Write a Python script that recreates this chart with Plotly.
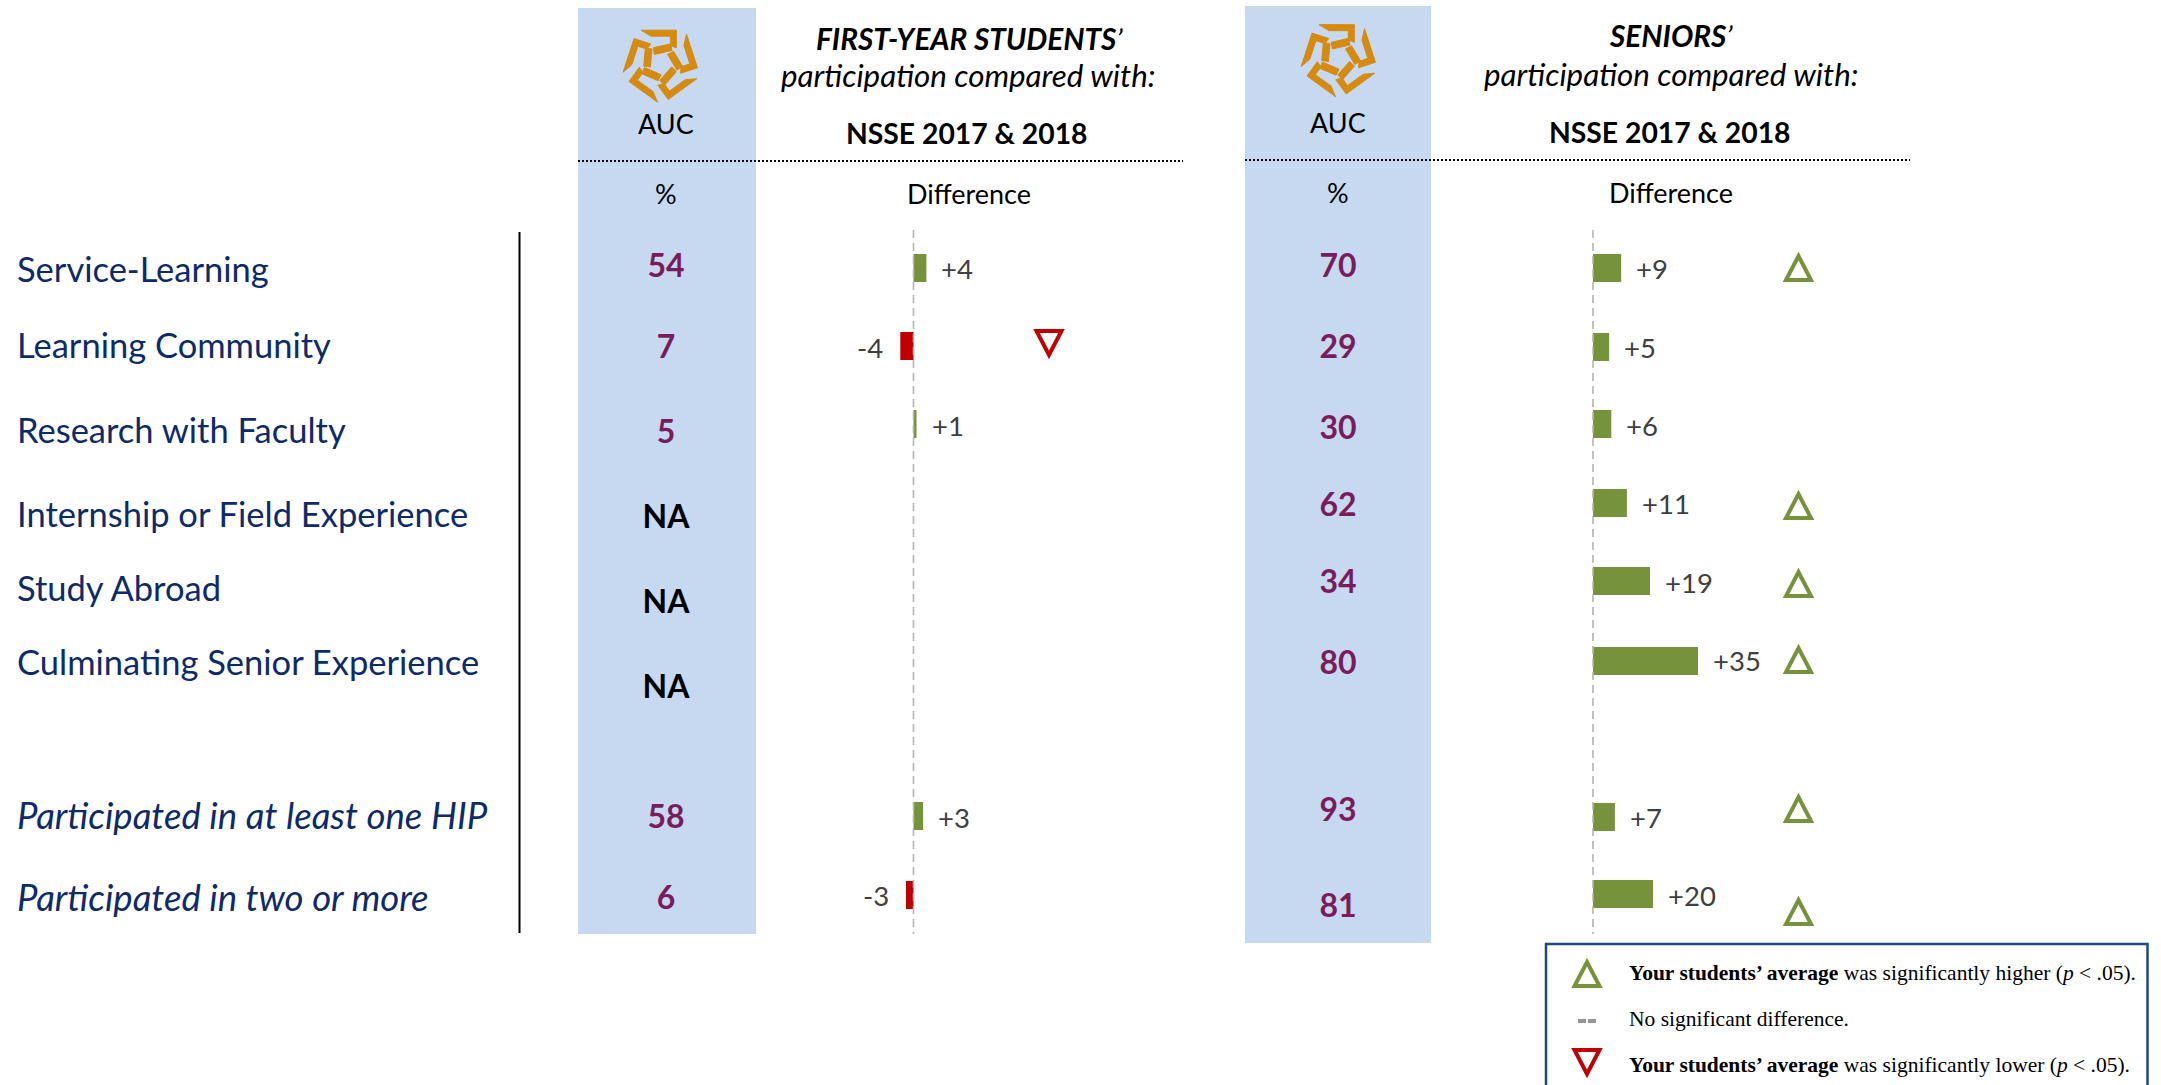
import math
import plotly.graph_objects as go

W, H = 2161, 1085

# ---------- data ----------
categories = ["Service-Learning", "Learning Community", "Research with Faculty",
              "Internship or Field Experience", "Study Abroad", "Culminating Senior Experience",
              "Participated in at least one HIP", "Participated in two or more"]
first_year_pct = ["54", "7", "5", "NA", "NA", "NA", "58", "6"]
senior_pct = ["70", "29", "30", "62", "34", "80", "93", "81"]
first_year_diff = [4.3, -4.4, 1.0, None, None, None, 3.2, -2.5]
first_year_diff_labels = ["+4", "-4", "+1", None, None, None, "+3", "-3"]
senior_diff = [9.4, 5.4, 6.1, 11.3, 19.0, 35.0, 7.3, 20.0]
senior_diff_labels = ["+9", "+5", "+6", "+11", "+19", "+35", "+7", "+20"]
first_year_sig = [None, "down", None, None, None, None, None, None]
senior_sig = ["up", None, None, "up", "up", "up", "up", "up"]

# ---------- layout positions (page pixels) ----------
label_y = [273, 349, 434, 518, 592, 666, 820, 902]
fy_pct_y = [269, 350, 435, 520, 605, 690, 820, 901]
sr_pct_y = [269, 350, 431, 508, 585, 666, 813, 909]
fy_bar_y = [268, 346, 424, 515, 601, 686, 816, 895]
sr_bar_y = [268, 347, 424, 503, 581, 661, 817, 894]
fy_lab_y = [268, 347, 425, 515, 601, 686, 817, 895]
sr_lab_y = [268, 347, 425, 503, 582, 660, 817, 895]
fy_sig_y = [268, 343, 424, 515, 601, 686, 816, 895]
sr_sig_y = [268, 347, 424, 506, 584, 660, 809, 912]
PX_PER_UNIT = 3.0
Z1, Z2 = 913.5, 1593.0
SIG_X1, SIG_X2 = 1049, 1798.5

GREEN, RED, PURPLE, NAVY, BLUE, GOLD = "#76933c", "#c00000", "#7a1c5c", "#0d2a6a", "#c6d9f1", "#d68a10"
SANS, SERIF = "Lato", "Liberation Serif"

def px(x): return x / W
def py(y): return 1 - y / H

fig = go.Figure()
shapes, annos = [], []

def rect(x0, y0, x1, y1, fill, line=None, lw=0, layer="below"):
    shapes.append(dict(type="rect", xref="paper", yref="paper", x0=px(x0), x1=px(x1), y0=py(y0), y1=py(y1),
                       fillcolor=fill, line=dict(color=line or fill, width=lw), layer=layer))

def seg(x0, y0, x1, y1, color, width, dash="solid", layer="above"):
    shapes.append(dict(type="line", xref="paper", yref="paper", x0=px(x0), x1=px(x1), y0=py(y0), y1=py(y1),
                       line=dict(color=color, width=width, dash=dash), layer=layer))

def text(x, y, s, size, color="#000000", family=SANS, anchor="center"):
    annos.append(dict(xref="paper", yref="paper", x=px(x), y=py(y), text=s, showarrow=False, xanchor=anchor,
                      yanchor="middle", font=dict(family=family, size=size, color=color)))

def tri(xv, yv, xref, direction, color, half=12.5, h=24, lw=4):
    # pixel-sized shape paths have y pointing upward on the page
    if direction == "up":
        p = f"M{-half},{-h/2} L{half},{-h/2} L0,{h/2} Z"
    else:
        p = f"M{-half},{h/2} L{half},{h/2} L0,{-h/2} Z"
    shapes.append(dict(type="path", xref=xref, yref="y", xsizemode="pixel", ysizemode="pixel",
                       xanchor=xv, yanchor=yv, path=p, line=dict(color=color, width=lw), fillcolor="rgba(0,0,0,0)",
                       layer="above"))

def logo(cx, cy):
    outer = [(-60, -100), (46, -100), (46, -47), (28, -54), (28, -82), (-30, -82)]
    inner = [(-23, -47), (29, -59), (33, -39), (-20, -27)]
    d = ""
    for k in range(5):
        a = math.radians(72 * k)
        for poly in (outer, inner):
            pts = []
            for (x, y) in poly:
                xx = (x * math.cos(a) - y * math.sin(a)) / 3 + cx
                yy = (x * math.sin(a) + y * math.cos(a)) / 3 + cy
                pts.append(f"{px(xx):.5f},{py(yy):.5f}")
            d += "M" + " L".join(pts) + " Z "
    shapes.append(dict(type="path", xref="paper", yref="paper", path=d, fillcolor=GOLD,
                       line=dict(width=1, color=GOLD), layer="above"))

# column backgrounds and rules
rect(578, 8, 756, 934, BLUE)
rect(1245, 6, 1431, 943, BLUE)
seg(578, 161, 1183, 161, "#000000", 2, "2px,2px")
seg(1245, 160, 1910, 160, "#000000", 2, "2px,2px")
seg(519.5, 232, 519.5, 933, "#000000", 2)
for xref, lo in (("x", 230), ("x2", 230)):
    shapes.append(dict(type="line", xref=xref, yref="y", x0=0, x1=0, y0=lo, y1=934,
                       line=dict(color="#b4b4b4", width=1.6, dash="8px,5px"), layer="above"))
logo(661, 63.5)
logo(1339, 58)

# headers
text(666, 123, "AUC", 27)
text(666, 194, "%", 27)
text(969, 38, "<b><i>FIRST-YEAR STUDENTS</i></b><i>’</i>", 29.7)
text(968, 75, "<i>participation compared with:</i>", 31.3)
text(967, 133, "<b>NSSE 2017 &amp; 2018</b>", 28.3)
text(969, 194, "Difference", 27)
text(1338, 122, "AUC", 27)
text(1338, 193, "%", 27)
text(1671, 36, "<b><i>SENIORS</i></b><i>’</i>", 29.7)
text(1671, 74, "<i>participation compared with:</i>", 31.3)
text(1670, 132, "<b>NSSE 2017 &amp; 2018</b>", 28.3)
text(1671, 193, "Difference", 27)

# bars
def bars(vals, ys, axis):
    xs = [v for v in vals if v is not None]
    yy = [y for v, y in zip(vals, ys) if v is not None]
    fig.add_trace(go.Bar(x=xs, y=yy, orientation="h", width=28, xaxis=axis, yaxis="y", base=0,
                         marker=dict(color=[GREEN if v > 0 else RED for v in xs], line=dict(width=0)),
                         showlegend=False))

bars(first_year_diff, fy_bar_y, "x")
bars(senior_diff, sr_bar_y, "x2")

def diff_labels(vals, labs, ys, axis):
    for v, l, y in zip(vals, labs, ys):
        if v is None:
            continue
        annos.append(dict(xref=axis, yref="y", x=v, y=y, text=l, showarrow=False,
                          xanchor="left" if v > 0 else "right", xshift=13 if v > 0 else -15, yanchor="middle",
                          font=dict(family=SANS, size=27.5, color="#404040")))

diff_labels(first_year_diff, first_year_diff_labels, fy_lab_y, "x")
diff_labels(senior_diff, senior_diff_labels, sr_lab_y, "x2")

# significance triangles
for s, y in zip(first_year_sig, fy_sig_y):
    if s:
        tri(SIG_X1, y, "x3", s, RED if s == "down" else GREEN)
for s, y in zip(senior_sig, sr_sig_y):
    if s:
        tri(SIG_X2, y, "x3", s, RED if s == "down" else GREEN)

# row labels
fig.add_trace(go.Scatter(x=[17] * 6, y=label_y[:6], text=categories[:6], mode="text", textposition="middle right",
                         xaxis="x3", yaxis="y", cliponaxis=False, showlegend=False,
                         textfont=dict(family=SANS, size=34.5, color=NAVY)))
fig.add_trace(go.Scatter(x=[17] * 2, y=label_y[6:], text=categories[6:], mode="text", textposition="middle right",
                         xaxis="x3", yaxis="y", cliponaxis=False, showlegend=False,
                         textfont=dict(family=SANS, size=36.6, color=NAVY, style="italic")))

# percentage columns
def pct(vals, ys, xc):
    fig.add_trace(go.Scatter(x=[xc] * len(vals), y=ys, text=vals, mode="text", textposition="middle center",
                             xaxis="x3", yaxis="y", cliponaxis=False, showlegend=False,
                             textfont=dict(family=SANS, size=32, weight="bold",
                                           color=["#000000" if v == "NA" else PURPLE for v in vals])))

pct(first_year_pct, fy_pct_y, 666)
pct(senior_pct, sr_pct_y, 1338)

# legend box
rect(1546, 944, 2147.5, 1095, "#ffffff", "#1f497d", 2.5, layer="above")
tri(1587, 974, "x3", "up", GREEN)
seg(1578, 1021, 1596, 1021, "#969696", 4, "8px,2px")
tri(1587, 1062, "x3", "down", RED)
text(1627, 973, "<b>Your students’ average</b> was significantly higher (<i>p</i> &lt; .05).", 21.5, family=SERIF, anchor="left")
text(1627, 1019, "No significant difference.", 21.5, family=SERIF, anchor="left")
text(1627, 1065, "<b>Your students’ average</b> was significantly lower (<i>p</i> &lt; .05).", 21.5, family=SERIF, anchor="left")

hidden = dict(visible=False, showgrid=False, zeroline=False, domain=[0, 1])
fig.update_layout(
    width=W, height=H, margin=dict(l=0, r=0, t=0, b=0, pad=0, autoexpand=False),
    paper_bgcolor="#ffffff", plot_bgcolor="rgba(0,0,0,0)", barmode="overlay", showlegend=False,
    xaxis=dict(range=[-Z1 / PX_PER_UNIT, (W - Z1) / PX_PER_UNIT], **hidden),
    xaxis2=dict(range=[-Z2 / PX_PER_UNIT, (W - Z2) / PX_PER_UNIT], overlaying="x", **hidden),
    xaxis3=dict(range=[0, W], overlaying="x", **hidden),
    yaxis=dict(range=[H, 0], visible=False, showgrid=False, zeroline=False, domain=[0, 1]),
    shapes=shapes, annotations=annos,
)

fig.write_html("out.html", config={"displayModeBar": False},
               post_script="document.body.style.margin='0';document.documentElement.style.overflow='hidden';")
